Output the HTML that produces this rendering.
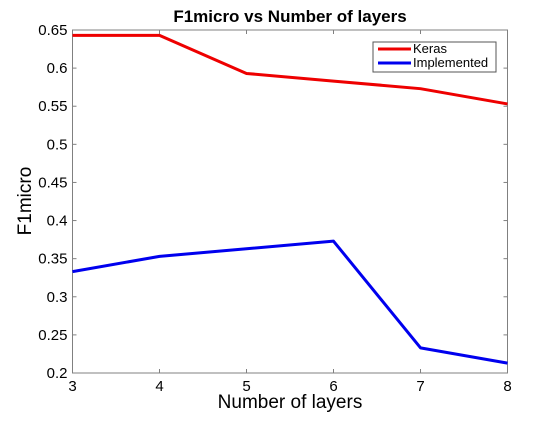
<!DOCTYPE html>
<html><head><meta charset="utf-8"><style>
body{margin:0;background:#fff}
svg text{font-family:"Liberation Sans",Arial,sans-serif}
</style></head><body>
<svg id="c" width="560" height="420" xmlns="http://www.w3.org/2000/svg">
<rect width="560" height="420" fill="#fff"/>
</svg>
<script>
const xCats=[3,4,5,6,7,8];
const kerasVals=[0.643,0.643,0.593,0.583,0.573,0.553];
const implVals=[0.333,0.353,0.363,0.373,0.233,0.213];
const yTicks=[0.2,0.25,0.3,0.35,0.4,0.45,0.5,0.55,0.6,0.65];
const yTickLabels=["0.2","0.25","0.3","0.35","0.4","0.45","0.5","0.55","0.6","0.65"];
const xTickLabels=["3","4","5","6","7","8"];
const svg=document.getElementById('c');const NS='http://www.w3.org/2000/svg';
const L=72.5,R=507.5,T=30,B=373;
const sx=v=>L+(v-3)/(8-3)*(R-L);
const sy=v=>B-(v-0.2)/(0.65-0.2)*(B-T);
function mk(t,a,p){const e=document.createElementNS(NS,t);for(const k in a)e.setAttribute(k,a[k]);(p||svg).appendChild(e);return e;}
const ax=mk('rect',{x:L,y:T,width:R-L,height:B-T,fill:'none',stroke:'#808080','stroke-width':1});


yTicks.forEach((v,i)=>{const y=sy(v);
 mk('line',{x1:L,x2:L+4,y1:y,y2:y,stroke:'#808080'});mk('line',{x1:R,x2:R-4,y1:y,y2:y,stroke:'#808080'});
 const t=mk('text',{x:L-5,y:y+5,'text-anchor':'end','font-size':15,fill:'#000'});t.textContent=yTickLabels[i];
 
 });
xCats.forEach((v,i)=>{const x=sx(v);
 mk('line',{x1:x,x2:x,y1:B,y2:B-4,stroke:'#808080'});mk('line',{x1:x,x2:x,y1:T,y2:T+4,stroke:'#808080'});
 const t=mk('text',{x:x,y:B+18,'text-anchor':'middle','font-size':15,fill:'#000'});t.textContent=xTickLabels[i];
 
 });
function series(vals,col,name){const p=mk('polyline',{points:vals.map((v,i)=>sx(xCats[i])+','+sy(v)).join(' '),fill:'none',stroke:col,'stroke-width':3,'stroke-linejoin':'round'});
 
 }
series(kerasVals,'#ee0000','keras-line');
series(implVals,'#0000ee','implemented-line');
const tt=mk('text',{x:290,y:22,'text-anchor':'middle','font-size':17,'font-weight':'bold',fill:'#000'});tt.textContent='F1micro vs Number of layers';


const xl=mk('text',{x:290,y:408,'text-anchor':'middle','font-size':19,fill:'#000'});xl.textContent='Number of layers';


const yl=mk('text',{x:0,y:0,'text-anchor':'middle','font-size':19,fill:'#000',transform:'translate(31,201) rotate(-90)'});yl.textContent='F1micro';


const lg=mk('g',{});


mk('rect',{x:373,y:42,width:123,height:30,fill:'#fff',stroke:'#555'},lg);
mk('line',{x1:378,x2:411,y1:49,y2:49,stroke:'#ee0000','stroke-width':3},lg);
mk('line',{x1:378,x2:411,y1:63,y2:63,stroke:'#0000ee','stroke-width':3},lg);
const k=mk('text',{x:413,y:53,'font-size':13,fill:'#000'},lg);k.textContent='Keras';


const im=mk('text',{x:413,y:67,'font-size':13,fill:'#000'},lg);im.textContent='Implemented';


</script>
</body></html>
